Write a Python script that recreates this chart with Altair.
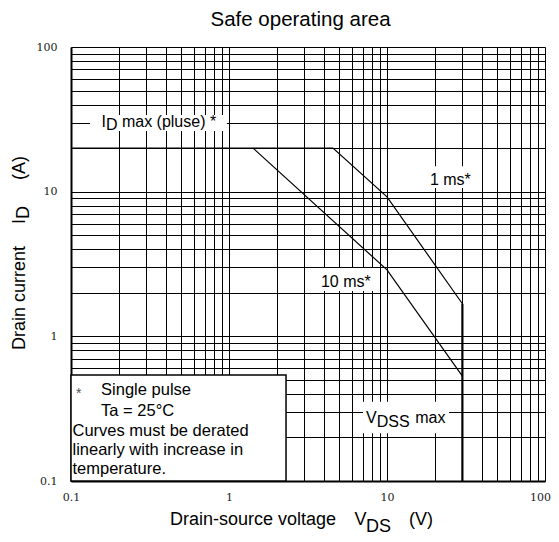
import json
import altair as alt
import pandas as pd

# ---- data ----
x_grid = [0.1, 0.2, 0.3, 0.4, 0.5, 0.6, 0.7, 0.8, 0.9,
          1, 2, 3, 4, 5, 6, 7, 8, 9,
          10, 20, 30, 40, 50, 60, 70, 80, 90, 100]
y_grid = [0.1, 0.2, 0.3, 0.4, 0.5, 0.6, 0.7, 0.8, 0.9,
          1, 2, 3, 4, 5, 6, 7, 8, 9,
          10, 20, 30, 40, 50, 60, 70, 80, 90, 100]
decade_labels = ["0.1", "1", "10", "100"]

vds_1ms = [0.1, 4.55, 10, 30]
id_1ms = [20, 20, 9.2, 1.68]
vds_10ms = [1.42, 10, 30]
id_10ms = [20, 2.88, 0.53]
vds_vdss = [30, 30]
id_vdss = [0.1, 1.68]

rows = []
for name, xs_, ys_ in [("1 ms", vds_1ms, id_1ms), ("10 ms", vds_10ms, id_10ms)]:
    for i, (a, b) in enumerate(zip(xs_, ys_)):
        rows.append({"series": name, "order": i, "vds": a, "id": b})
curves = pd.DataFrame(rows)
vdss = pd.DataFrame({"vds": vds_vdss, "id": id_vdss, "order": [0, 1]})

FONT = "Liberation Sans"
xscale = alt.Scale(type="log", domain=[0.1, 100], nice=False)
yscale = alt.Scale(type="log", domain=[0.1, 100], nice=False)
lab_expr = "indexof(%s, datum.label) >= 0 ? datum.label : ''" % json.dumps(decade_labels)

common_axis = dict(grid=True, gridColor="black", gridWidth=1, gridOpacity=1,
                   ticks=False, domain=True, domainColor="black", domainWidth=2,
                   labelFont="DejaVu Serif", labelFontSize=11, labelColor="#222",
                   format="~g", labelExpr=lab_expr, labelOverlap=False,
                   labelFlush=False, title=None)

x_axis = alt.Axis(values=x_grid, labelPadding=10,
                  labelOffset={"condition": {"test": "datum.value >= 100", "value": -5}, "value": 0},
                  **common_axis)
y_axis = alt.Axis(values=y_grid, labelPadding=14, **common_axis)

curve_layer = alt.Chart(curves).mark_line(color="black", strokeWidth=1.2).encode(
    x=alt.X("vds:Q", scale=xscale, axis=x_axis),
    y=alt.Y("id:Q", scale=yscale, axis=y_axis),
    detail="series:N",
    order="order:Q",
)
vdss_layer = alt.Chart(vdss).mark_line(color="black", strokeWidth=2.2).encode(
    x=alt.X("vds:Q", scale=xscale, axis=x_axis),
    y=alt.Y("id:Q", scale=yscale, axis=y_axis),
    order="order:Q",
)

one = alt.Data(values=[{}])


def box(x1, x2, y1, y2, **kw):
    return alt.Chart(one).mark_rect(fill="white", **kw).encode(
        x=alt.XDatum(x1, scale=xscale, axis=x_axis), x2=alt.X2Datum(x2),
        y=alt.YDatum(y1, scale=yscale, axis=y_axis), y2=alt.Y2Datum(y2))


def label(text, x, y, size=16, **kw):
    return alt.Chart(one).mark_text(text=text, align="left", baseline="alphabetic",
                                    font=FONT, fontSize=size, color="black", **kw).encode(
        x=alt.XDatum(x, scale=xscale, axis=x_axis),
        y=alt.YDatum(y, scale=yscale, axis=y_axis))


def ptext(text, x, y, size=18, align="left", angle=0):
    kw = {}
    if angle:
        kw["angle"] = angle
    return alt.Chart(one).mark_text(text=text, align=align, baseline="alphabetic",
                                    font=FONT, fontSize=size, color="black", **kw).encode(
        x=alt.value(x), y=alt.value(y))


layers = [
    curve_layer,
    # white label backgrounds
    box(0.132, 0.97, 26.3, 33.9, strokeWidth=0),
    box(18.2, 36.6, 10.6, 15.0, strokeWidth=0),
    box(3.61, 8.77, 2.06, 2.97, strokeWidth=0),
    box(7.05, 24.7, 0.214, 0.353, strokeWidth=0),
    box(0.1, 2.296, 0.1, 0.5405, stroke="black", strokeWidth=1.5),
    vdss_layer,
    # in-plot labels
    label("I", 0.156, 28.0),
    label("D", 0.1665, 26.7),
    label("max (pluse) *", 0.210, 28.0),
    label("1 ms*", 18.7, 11.1),
    label("10 ms*", 3.82, 2.20),
    label("V", 7.36, 0.2506),
    label("DSS", 8.61, 0.237),
    label("max", 15.1, 0.2506),
    label("*", 0.1076, 0.3747, size=14, opacity=0.7),
    label("Single pulse", 0.155, 0.390, size=16.5),
    label("Ta = 25°C", 0.155, 0.2836, size=16.5),
    label("Curves must be derated", 0.1022, 0.2048, size=16.5),
    label("linearly with increase in", 0.1022, 0.1513, size=16.5),
    label("temperature.", 0.1022, 0.1118, size=16.5),
    # titles
    ptext("Safe operating area", 229.5, -21, size=20.5, align="center"),
    ptext("Drain-source voltage", 265, 478, align="right"),
    ptext("V", 283.5, 478),
    ptext("DS", 295, 485),
    ptext("(V)", 338, 478),
    ptext("Drain current", -46, 303, angle=270),
    ptext("I", -46, 177, angle=270),
    ptext("D", -42, 172, angle=270),
    ptext("(A)", -46, 133, angle=270),
]

chart = alt.layer(*layers).properties(
    width=474, height=434,
    padding={"left": 63, "top": 39, "right": 6, "bottom": 58},
    autosize=alt.AutoSizeParams(type="none"),
).configure_view(strokeWidth=0)

chart.save("out.html", embed_options={"renderer": "svg", "actions": False})
